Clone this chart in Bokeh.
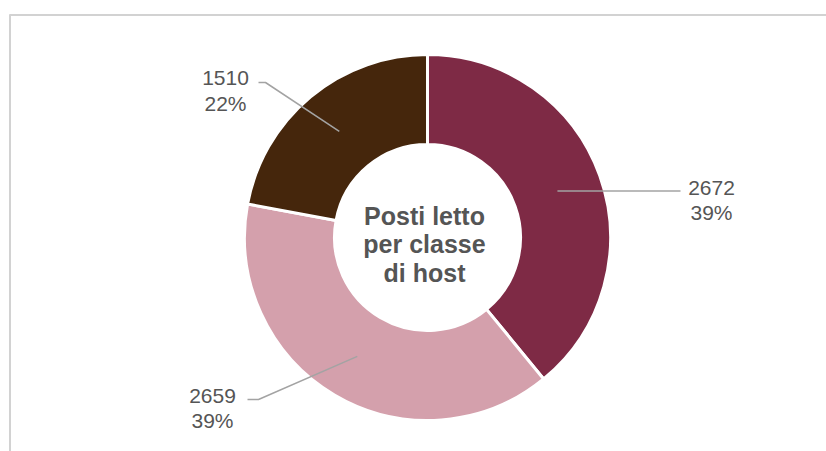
import numpy as np
from bokeh.plotting import figure
from bokeh.models import Range1d, ColumnDataSource
from bokeh.core.properties import value
from bokeh.embed import file_html
from bokeh.resources import INLINE

# ---- data ----
slice_values = [2672, 2659, 1510]
slice_colors = ["#7E2A45", "#D4A0AC", "#45260C"]
center_title = ["Posti letto", "per classe", "di host"]

# ---- layout (pixel positions, y measured from top) ----
W, H = 826, 451
CX, CY = 427, 237
R_OUT, R_IN = 183, 93
# leader elbow and end points, label centre x and baselines
leader_elbow = [(680, 191), (258, 399), (265, 82)]
leader_end = [(680, 191), (247, 399), (258, 82)]
label_x = [711, 212, 225]
label_base = [(187, 212), (395, 420), (77, 103)]
title_x = 424
title_base = [215, 243, 272]

def fy(ypx):
    return H - ypx

total = float(sum(slice_values))
fracs = [v / total for v in slice_values]
cum = np.concatenate([[0.0], np.cumsum(fracs)]) * 360.0
starts = [np.radians(90 - cum[i + 1]) for i in range(len(slice_values))]
ends = [np.radians(90 - cum[i]) for i in range(len(slice_values))]
pct = [f"{round(f * 100)}%" for f in fracs]

p = figure(width=W, height=H, output_backend="svg", toolbar_location=None,
           x_range=Range1d(0, W), y_range=Range1d(0, H), min_border=0)
p.axis.visible = False
p.xgrid.visible = False
p.ygrid.visible = False
p.outline_line_color = None
p.background_fill_color = "white"
p.border_fill_color = "white"

# panel border (top and left)
p.segment(x0=[9, 9.5], y0=[fy(14.5), fy(14)], x1=[W, 9.5], y1=[fy(14.5), 0],
          line_color="#d2d2d2", line_width=2)

src = ColumnDataSource(dict(start=starts, end=ends, color=slice_colors))
p.annular_wedge(x=CX, y=fy(CY), inner_radius=R_IN, outer_radius=R_OUT,
                start_angle="start", end_angle="end", direction="anticlock",
                fill_color="color", line_color="white", line_width=3, source=src)

# leader lines
r_mid = (R_IN + R_OUT) / 2.0
xs, ys = [], []
for i in range(len(slice_values)):
    mid = np.radians((cum[i] + cum[i + 1]) / 2.0)
    sx = CX + r_mid * np.sin(mid)
    sy = CY - r_mid * np.cos(mid)
    ex, ey = leader_elbow[i]
    tx, ty = leader_end[i]
    if i == 0:
        ey = sy
        ty = sy
    xs.append([sx, ex, tx])
    ys.append([fy(sy), fy(ey), fy(ty)])
p.multi_line(xs=xs, ys=ys, line_color="#a3a3a3", line_width=1.5)

# labels
font = value("Liberation Sans")
p.text(x=label_x, y=[fy(b[0]) for b in label_base], text=[str(v) for v in slice_values],
       text_font=font, text_font_size="21px", text_color="#555555",
       text_align="center", text_baseline="alphabetic")
p.text(x=label_x, y=[fy(b[1]) for b in label_base], text=pct,
       text_font=font, text_font_size="21px", text_color="#555555",
       text_align="center", text_baseline="alphabetic")

# centre title
p.text(x=[title_x] * 3, y=[fy(b) for b in title_base], text=center_title,
       text_font=font, text_font_size="25px", text_font_style="bold",
       text_color="#555555", text_align="center", text_baseline="alphabetic")

open("out.html", "w").write(file_html(p, INLINE))
